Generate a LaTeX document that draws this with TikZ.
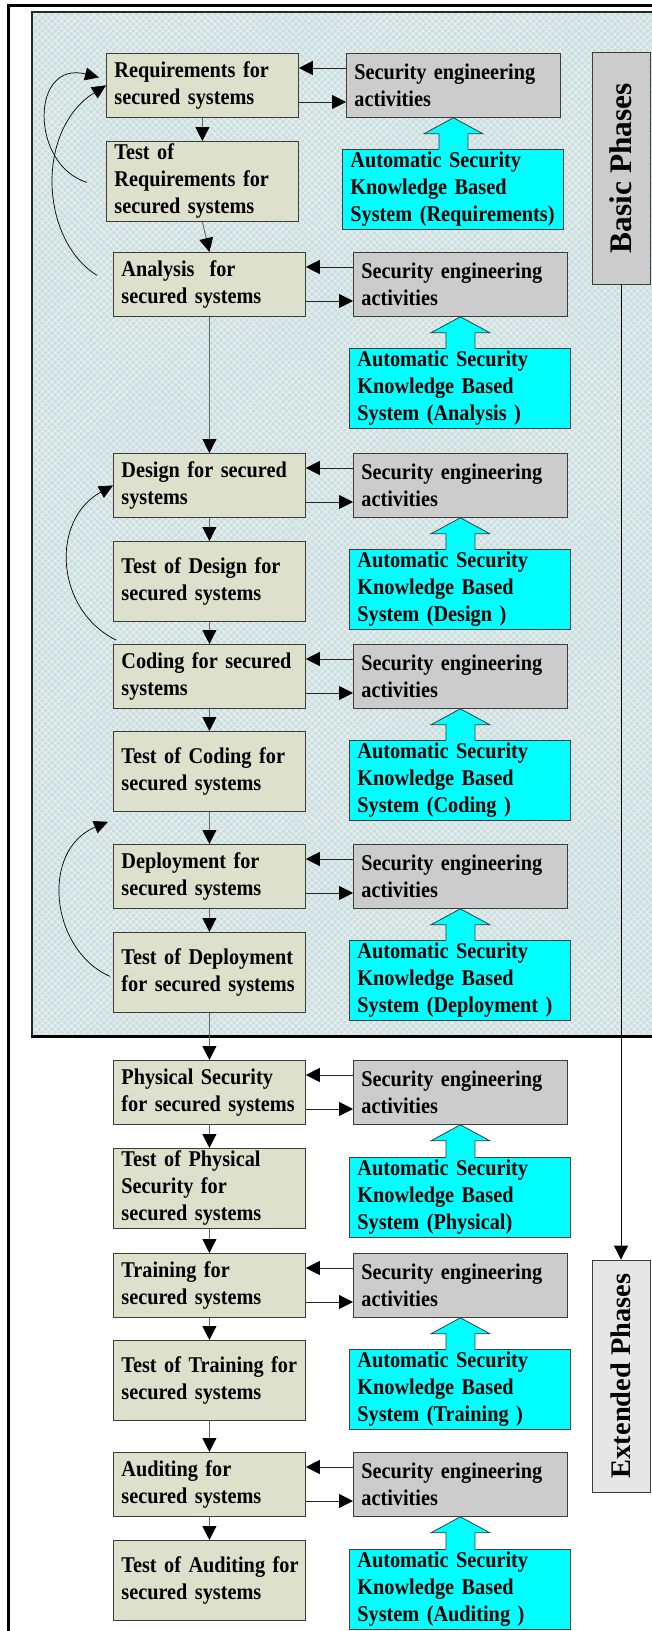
\documentclass[tikz,border=0pt]{standalone}
\usepackage{fontspec}
\newfontfamily\boxfont{Liberation Serif}[FakeStretch=0.9]
\newfontfamily\phasefont{Liberation Serif}
\usetikzlibrary{arrows.meta,calc,patterns.meta}
\definecolor{lcol}{RGB}{221,225,204}
\definecolor{gcol}{RGB}{204,204,204}
\definecolor{ccol}{RGB}{0,255,255}
\definecolor{ecol}{RGB}{230,230,230}
\definecolor{bgblue}{RGB}{202,223,227}
\definecolor{latt}{RGB}{236,241,233}
\definecolor{bordcol}{RGB}{60,60,60}
\tikzset{
  boxtext/.style={font=\boxfont\bfseries\fontsize{22.6}{27.1}\selectfont},
  basebox/.style={boxtext, draw=bordcol, line width=0.8bp, inner xsep=8bp, inner ysep=0pt,
    align=left, anchor=north west},
  lbox/.style={basebox, fill=lcol, text width=176bp, minimum height=64bp},
  tbox/.style={basebox, fill=lcol, text width=176bp, minimum height=80bp},
  gbox/.style={basebox, fill=gcol, text width=198bp, minimum height=64bp},
  cbox/.style={basebox, fill=ccol, text width=205bp, minimum height=80bp},
  phasebox/.style={draw=bordcol, line width=0.8bp, rotate=90, minimum width=232bp,
    minimum height=58bp, inner sep=0pt},
  harr/.style={draw=black!85, line width=0.9bp, -{Triangle[length=14bp,width=14bp,color=black,fill=black]}},
  varr/.style={draw=black!60, line width=0.9bp, -{Triangle[length=14bp,width=14bp,color=black,fill=black]}},
  curvarr/.style={draw=black, line width=0.7bp, -{Triangle[length=14bp,width=13bp,color=black,fill=black]}},
  boxline/.style={draw=bordcol, line width=0.8bp},
}
\newcommand\blockarrow[2]{%
  \fill[ccol] (#1.south) -- ($(#1.south)+(29.5,16)$) -- ($(#1.south)+(14.5,16)$)
    -- ($(#1.south |- #2.north)+(14.5,1.5)$) -- ($(#1.south |- #2.north)+(-14.5,1.5)$)
    -- ($(#1.south)+(-14.5,16)$) -- ($(#1.south)+(-29.5,16)$) -- cycle;
  \draw[boxline] ($(#1.south |- #2.north)+(-14.5,0.4)$) -- ($(#1.south)+(-14.5,16)$)
    -- ($(#1.south)+(-29.5,16)$) -- (#1.south) -- ($(#1.south)+(29.5,16)$)
    -- ($(#1.south)+(14.5,16)$) -- ($(#1.south |- #2.north)+(14.5,0.4)$);}
\newcommand\sidearrows[2]{%
  \draw[harr] ($(#2.north west)+(0,15)$) -- ($(#1.north east |- #2.north west)+(0,15)$);
  \draw[harr] ($(#1.north east |- #2.north west)+(0,49)$) -- ($(#2.north west)+(0,49)$);}
\begin{document}
\begin{tikzpicture}[x=1bp,y=-1bp]
\useasboundingbox (0,0) rectangle (652,1631);
\clip (0,0) rectangle (652,1631);
\fill[white] (0,0) rectangle (652,1631);
% outer frame
\draw[line width=3bp, black] (8,1660) -- (8,6) -- (680,6);
% shaded basic-phase region
\fill[bgblue] (32,12) rectangle (680,1036);
\fill[pattern={Lines[angle=45,distance=4.6bp,line width=0.8bp]}, pattern color=latt] (32,12) rectangle (680,1036);
\fill[pattern={Lines[angle=-45,distance=4.6bp,line width=0.8bp]}, pattern color=latt] (32,12) rectangle (680,1036);
\draw[line width=1.5bp, black!85] (680,12) -- (32,12) -- (32,1036);
\draw[line width=3bp, black] (31,1036) -- (680,1036);

% phase boxes
\node[phasebox, fill=gcol, font=\phasefont\bfseries\fontsize{31.5}{33}\selectfont] (basic) at (621,168) {Basic Phases};
\node[phasebox, fill=ecol, font=\phasefont\bfseries\fontsize{28.5}{30}\selectfont] (ext) at (621,1376) {Extended Phases};

% left column
\node[lbox] (l1) at (106,53) {Requirements for\\secured systems};
\node[tbox] (t1) at (106,141) {Test of\\Requirements for\\secured systems};
\node[lbox] (l2) at (113,252) {Analysis~ for\\secured systems};
\node[lbox] (l3) at (113,453) {\mbox{Design for secured}\\systems};
\node[tbox] (t3) at (113,541) {\mbox{Test of Design for}\\secured systems};
\node[lbox] (l4) at (113,644) {\mbox{Coding for secured}\\systems};
\node[tbox] (t4) at (113,731) {\mbox{Test of Coding for}\\secured systems};
\node[lbox] (l5) at (113,844) {Deployment for\\secured systems};
\node[tbox] (t5) at (113,932) {\mbox{Test of Deployment}\\\mbox{for secured systems}};
\node[lbox] (l6) at (113,1060) {\mbox{Physical Security}\\\mbox{for secured systems}};
\node[tbox] (t6) at (113,1148) {Test of Physical\\Security for\\secured systems};
\node[lbox] (l7) at (113,1253) {Training for\\secured systems};
\node[tbox] (t7) at (113,1340) {\mbox{Test of Training for}\\secured systems};
\node[lbox] (l8) at (113,1452) {Auditing for\\secured systems};
\node[tbox] (t8) at (113,1540) {\mbox{Test of Auditing for}\\secured systems};

% security engineering activities
\node[gbox] (g1) at (346,53) {Security engineering\\activities};
\node[gbox] (g2) at (353,252) {Security engineering\\activities};
\node[gbox] (g3) at (353,453) {Security engineering\\activities};
\node[gbox] (g4) at (353,644) {Security engineering\\activities};
\node[gbox] (g5) at (353,844) {Security engineering\\activities};
\node[gbox] (g6) at (353,1060) {Security engineering\\activities};
\node[gbox] (g7) at (353,1253) {Security engineering\\activities};
\node[gbox] (g8) at (353,1452) {Security engineering\\activities};

% knowledge based systems
\node[cbox] (c1) at (342,149) {Automatic Security\\Knowledge Based\\\mbox{System (Requirements)}};
\node[cbox] (c2) at (349,348) {Automatic Security\\Knowledge Based\\System (Analysis )};
\node[cbox] (c3) at (349,549) {Automatic Security\\Knowledge Based\\System (Design )};
\node[cbox] (c4) at (349,740) {Automatic Security\\Knowledge Based\\System (Coding )};
\node[cbox] (c5) at (349,940) {Automatic Security\\Knowledge Based\\\mbox{System (Deployment )}};
\node[cbox] (c6) at (349,1157) {Automatic Security\\Knowledge Based\\System (Physical)};
\node[cbox] (c7) at (349,1349) {Automatic Security\\Knowledge Based\\System (Training )};
\node[cbox] (c8) at (349,1549) {Automatic Security\\Knowledge Based\\System (Auditing )};

% block arrows
\blockarrow{g1}{c1}
\blockarrow{g2}{c2}
\blockarrow{g3}{c3}
\blockarrow{g4}{c4}
\blockarrow{g5}{c5}
\blockarrow{g6}{c6}
\blockarrow{g7}{c7}
\blockarrow{g8}{c8}

% side arrows
\sidearrows{l1}{g1}
\sidearrows{l2}{g2}
\sidearrows{l3}{g3}
\sidearrows{l4}{g4}
\sidearrows{l5}{g5}
\sidearrows{l6}{g6}
\sidearrows{l7}{g7}
\sidearrows{l8}{g8}

% vertical flow
\draw[varr] (l1.south) -- (t1.north);
\draw[varr] (t1.south) -- (l2.north);
\draw[varr] (l2.south) -- (l3.north);
\draw[varr] (l3.south) -- (t3.north);
\draw[varr] (t3.south) -- (l4.north);
\draw[varr] (l4.south) -- (t4.north);
\draw[varr] (t4.south) -- (l5.north);
\draw[varr] (l5.south) -- (t5.north);
\draw[varr] (t5.south) -- (l6.north);
\draw[varr] (l6.south) -- (t6.north);
\draw[varr] (t6.south) -- (l7.north);
\draw[varr] (l7.south) -- (t7.north);
\draw[varr] (t7.south) -- (l8.north);
\draw[varr] (l8.south) -- (t8.north);

% phase connector
\draw[line width=0.8bp, black, -{Triangle[length=14bp,width=14bp]}] (basic.west) -- (ext.east);

% feedback curves
\coordinate (fa) at ($(t1.west)+(-19,1)$);
\coordinate (fatip) at ($(l1.west)+(-7,-8)$);
\draw[curvarr] (fa) .. controls (30,165) and (30,60) .. (fatip);
\coordinate (fb) at ($(l2.west)+(-16,-9)$);
\draw[curvarr] (fb) .. controls (40,240) and (35,130) .. (l1.west);
\coordinate (fc) at ($(l4.north west)+(3,-4)$);
\draw[curvarr] (fc) .. controls (55,610) and (50,520) .. (l3.west);
\coordinate (fd) at ($(t5.west)+(-3,4)$);
\coordinate (fdtip) at ($(t4.south west)+(-5,10)$);
\draw[curvarr] (fd) .. controls (50,950) and (40,850) .. (fdtip);
\end{tikzpicture}
\end{document}
